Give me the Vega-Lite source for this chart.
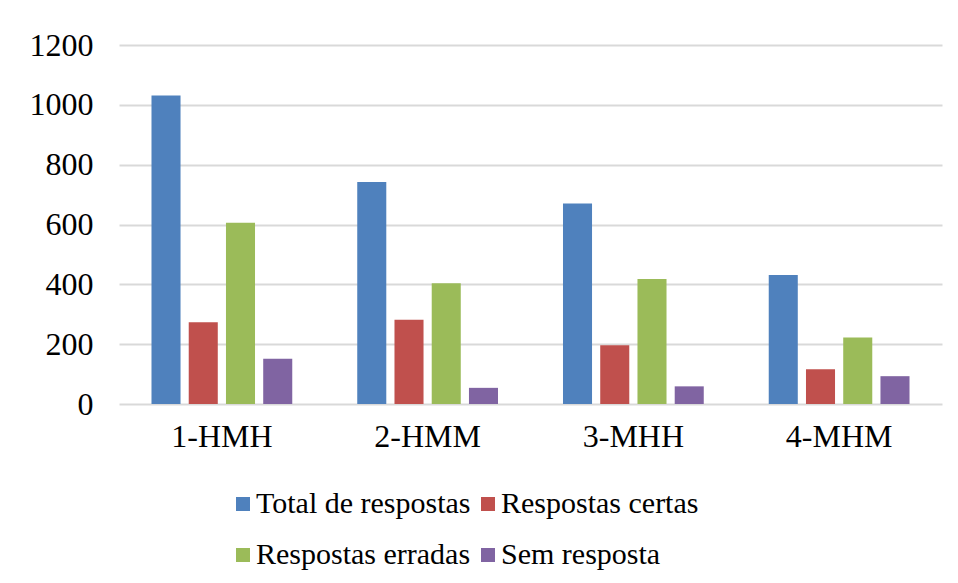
{
  "$schema": "https://vega.github.io/schema/vega-lite/v6.json",
  "width": 823,
  "height": 359,
  "autosize": {"type": "none"},
  "padding": {"left": 119, "top": 45, "right": 16, "bottom": 179},
  "background": "white",
  "config": {
    "font": "Liberation Serif",
    "axis": {"labelFont": "Liberation Serif"},
    "legend": {"labelFont": "Liberation Serif"},
    "view": {"stroke": null}
  },
  "data": {
    "values": [
      {"grupo": "1-HMH", "serie": "Total de respostas", "valor": 1031},
      {"grupo": "1-HMH", "serie": "Respostas certas", "valor": 273},
      {"grupo": "1-HMH", "serie": "Respostas erradas", "valor": 606},
      {"grupo": "1-HMH", "serie": "Sem resposta", "valor": 151},
      {"grupo": "2-HMM", "serie": "Total de respostas", "valor": 742},
      {"grupo": "2-HMM", "serie": "Respostas certas", "valor": 282},
      {"grupo": "2-HMM", "serie": "Respostas erradas", "valor": 404},
      {"grupo": "2-HMM", "serie": "Sem resposta", "valor": 54},
      {"grupo": "3-MHH", "serie": "Total de respostas", "valor": 670},
      {"grupo": "3-MHH", "serie": "Respostas certas", "valor": 196},
      {"grupo": "3-MHH", "serie": "Respostas erradas", "valor": 418},
      {"grupo": "3-MHH", "serie": "Sem resposta", "valor": 59},
      {"grupo": "4-MHM", "serie": "Total de respostas", "valor": 431},
      {"grupo": "4-MHM", "serie": "Respostas certas", "valor": 116},
      {"grupo": "4-MHM", "serie": "Respostas erradas", "valor": 222},
      {"grupo": "4-MHM", "serie": "Sem resposta", "valor": 93}
    ]
  },
  "mark": {"type": "bar"},
  "encoding": {
    "x": {
      "field": "grupo",
      "type": "nominal",
      "sort": null,
      "scale": {"paddingInner": 0.276, "paddingOuter": 0.138},
      "axis": {
        "title": null,
        "labelAngle": 0,
        "labelFont": "Liberation Serif",
        "labelFontSize": 32,
        "labelColor": "black",
        "labelPadding": 17,
        "ticks": false,
        "domain": false,
        "grid": false
      }
    },
    "xOffset": {
      "field": "serie",
      "type": "nominal",
      "sort": ["Total de respostas", "Respostas certas", "Respostas erradas", "Sem resposta"],
      "scale": {"paddingInner": 0.22, "paddingOuter": 0.11}
    },
    "y": {
      "field": "valor",
      "type": "quantitative",
      "scale": {"domain": [0, 1200], "nice": false},
      "axis": {
        "title": null,
        "format": "d",
        "values": [0, 200, 400, 600, 800, 1000, 1200],
        "labelFont": "Liberation Serif",
        "labelFontSize": 32,
        "labelColor": "black",
        "labelPadding": 26,
        "ticks": false,
        "domain": false,
        "grid": true,
        "gridColor": "#d9d9d9",
        "gridWidth": 2
      }
    },
    "color": {
      "field": "serie",
      "type": "nominal",
      "sort": ["Total de respostas", "Respostas certas", "Respostas erradas", "Sem resposta"],
      "scale": {
        "domain": ["Total de respostas", "Respostas certas", "Respostas erradas", "Sem resposta"],
        "range": ["#4F81BD", "#C0504D", "#9BBB59", "#8064A2"]
      },
      "legend": {
        "title": null,
        "orient": "none",
        "legendX": 109,
        "legendY": 444,
        "padding": 0,
        "direction": "horizontal",
        "columns": 2,
        "columnPadding": 2,
        "rowPadding": 21,
        "symbolType": "square",
        "symbolSize": 196,
        "symbolStrokeWidth": 0,
        "labelFont": "Liberation Serif",
        "labelFontSize": 30,
        "labelColor": "black",
        "labelOffset": -2,
        "labelLimit": 400
      }
    }
  }
}
